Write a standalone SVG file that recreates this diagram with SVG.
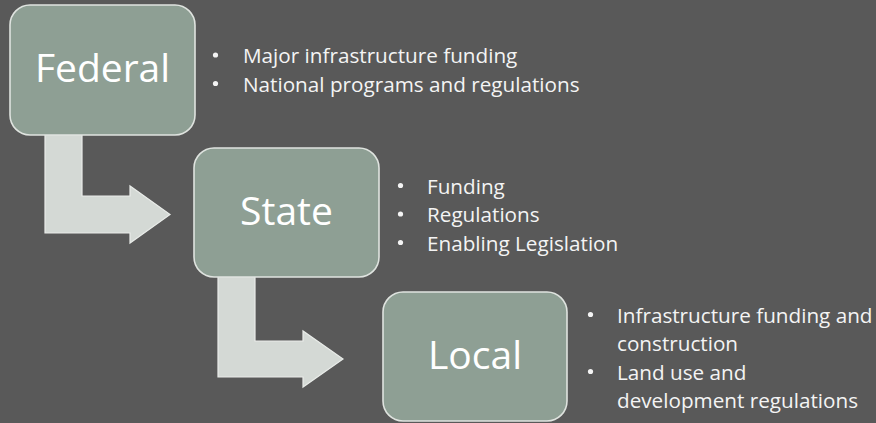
<svg xmlns="http://www.w3.org/2000/svg" width="876" height="423" viewBox="0 0 876 423">
  <defs>
    <style>
      .bg { fill: #595959; }
      .node rect { fill: #8e9f94; stroke: #dfe3df; stroke-width: 1.6; }
      .node .title { font-family: "Open Sans", "Noto Sans", sans-serif; font-size: 39px; fill: #ffffff; text-anchor: middle; }
      .bent { fill: #d4d9d5; stroke: #e9ece9; stroke-width: 1.2; stroke-linejoin: miter; }
      .notes text { font-family: "Open Sans", "Noto Sans", sans-serif; font-size: 20.7px; fill: #f4f4f4; }
      .notes circle { fill: #f4f4f4; }
    </style>
  </defs>

  <rect class="bg" x="0" y="0" width="876" height="423"/>

  <!-- bent arrows running down the levels of government -->
  <g id="connectors">
    <path class="bent" d="M45,130 L82,130 L82,196 L130,196 L130,186 L170,214.5 L130,243 L130,233 L45,233 Z"/>
    <path class="bent" d="M218,272 L255,272 L255,341 L303,341 L303,331 L343,359 L303,387 L303,377 L218,377 Z"/>
  </g>

  <!-- Federal -->
  <g id="federal" class="node">
    <rect x="10" y="5" width="185" height="130" rx="20" ry="20"/>
    <text class="title" x="102.5" y="82">Federal</text>
  </g>
  <g id="federal-notes" class="notes">
    <circle cx="215.5" cy="55" r="2.6"/>
    <text x="243" y="63">Major infrastructure funding</text>
    <circle cx="215.5" cy="83.5" r="2.6"/>
    <text x="243" y="91.5">National programs and regulations</text>
  </g>

  <!-- State -->
  <g id="state" class="node">
    <rect x="194" y="148" width="185" height="129" rx="20" ry="20"/>
    <text class="title" x="286.5" y="224.5">State</text>
  </g>
  <g id="state-notes" class="notes">
    <circle cx="400.5" cy="185.5" r="2.6"/>
    <text x="427" y="193.5">Funding</text>
    <circle cx="400.5" cy="214" r="2.6"/>
    <text x="427" y="222">Regulations</text>
    <circle cx="400.5" cy="242.5" r="2.6"/>
    <text x="427" y="250.5">Enabling Legislation</text>
  </g>

  <!-- Local -->
  <g id="local" class="node">
    <rect x="383" y="292" width="184" height="129" rx="20" ry="20"/>
    <text class="title" x="475" y="368.5">Local</text>
  </g>
  <g id="local-notes" class="notes">
    <circle cx="590.5" cy="314.5" r="2.6"/>
    <text x="617" y="322.5">Infrastructure funding and</text>
    <text x="617" y="351">construction</text>
    <circle cx="590.5" cy="371.5" r="2.6"/>
    <text x="617" y="379.5">Land use and</text>
    <text x="617" y="408">development regulations</text>
  </g>
</svg>
